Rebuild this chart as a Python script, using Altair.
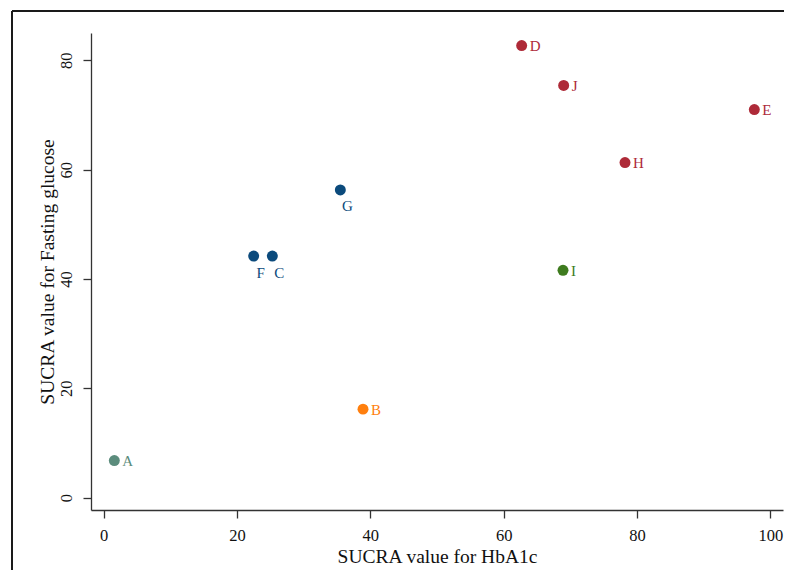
import altair as alt
import pandas as pd

names = ["A", "B", "C", "D", "E", "F", "G", "H", "I", "J"]
hba1c = [1.6, 38.9, 25.3, 62.7, 97.6, 22.5, 35.5, 78.2, 68.9, 69.0]
glucose = [6.8, 16.2, 44.2, 82.7, 71.0, 44.2, 56.3, 61.3, 41.6, 75.4]
groups = ["g1", "g2", "g3", "g4", "g4", "g3", "g3", "g4", "g5", "g4"]
below_labels = ["C", "F", "G"]

group_domain = ["g1", "g2", "g3", "g4", "g5"]
group_colors = ["#5b8c7c", "#ff7f0e", "#0b4a7c", "#ae2a38", "#3e7b1e"]

x_ticks = [0, 20, 40, 60, 80, 100]
y_ticks = [0, 20, 40, 60, 80]

df = pd.DataFrame({"name": names, "hba1c": hba1c, "glucose": glucose, "group": groups})

W, H = 692, 477
PAD_R, PAD_B = 1, 60
FONT = "Liberation Serif"

xs = alt.X("hba1c:Q", scale=alt.Scale(domain=[-1.9, 101.9], nice=False, zero=False),
           axis=alt.Axis(values=x_ticks, title="SUCRA value for HbA1c", grid=False,
                         tickSize=8, labelPadding=22, labelBaseline="alphabetic",
                         titleY=52, titleBaseline="alphabetic"))
ys = alt.Y("glucose:Q", scale=alt.Scale(domain=[-2.25, 85], nice=False, zero=False),
           axis=alt.Axis(values=y_ticks, title="SUCRA value for Fasting glucose", grid=False,
                         tickSize=8, labelPadding=12, labelAngle=270, labelAlign="center",
                         labelBaseline="alphabetic",
                         titleX=-38, titleY=H / 2, titleAngle=270, titleBaseline="alphabetic",
                         titleAlign="center"))
color = alt.Color("group:N", scale=alt.Scale(domain=group_domain, range=group_colors), legend=None)

base = alt.Chart(df)
points = base.mark_circle(size=120, opacity=1).encode(x=xs, y=ys, color=color)

right_text = base.transform_filter(
    ~alt.FieldOneOfPredicate(field="name", oneOf=below_labels)
).mark_text(align="left", baseline="alphabetic", dx=8, dy=5.5, font=FONT, fontSize=15).encode(
    x="hba1c:Q", y="glucose:Q", text="name:N", color=color)

below_text = base.transform_filter(
    alt.FieldOneOfPredicate(field="name", oneOf=below_labels)
).mark_text(align="center", baseline="alphabetic", dx=7, dy=21.5, font=FONT, fontSize=15).encode(
    x="hba1c:Q", y="glucose:Q", text="name:N", color=color)

frame_top = alt.Chart(df).mark_rule(color="#1a1a1a", strokeWidth=2).encode(
    x=alt.value(-79), x2=alt.value(W + PAD_R), y=alt.value(-22))
frame_left = alt.Chart(df).mark_rule(color="#1a1a1a", strokeWidth=2).encode(
    x=alt.value(-79), y=alt.value(-22), y2=alt.value(H + PAD_B))

chart = alt.layer(points, right_text, below_text, frame_top, frame_left).properties(
    width=W, height=H,
    background="white",
    autosize=alt.AutoSizeParams(type="none"),
    padding={"left": 83, "top": 25, "right": PAD_R, "bottom": PAD_B},
).configure_view(stroke=None).configure_axis(
    labelFont=FONT, titleFont=FONT, labelFontSize=16.5, titleFontSize=19.5,
    labelColor="#111", titleColor="#111", titleFontWeight="normal",
    domainColor="#333", tickColor="#333", domainWidth=1.3, tickWidth=1.3,
)

chart.save("out.html", embed_options={"renderer": "svg", "actions": False})
